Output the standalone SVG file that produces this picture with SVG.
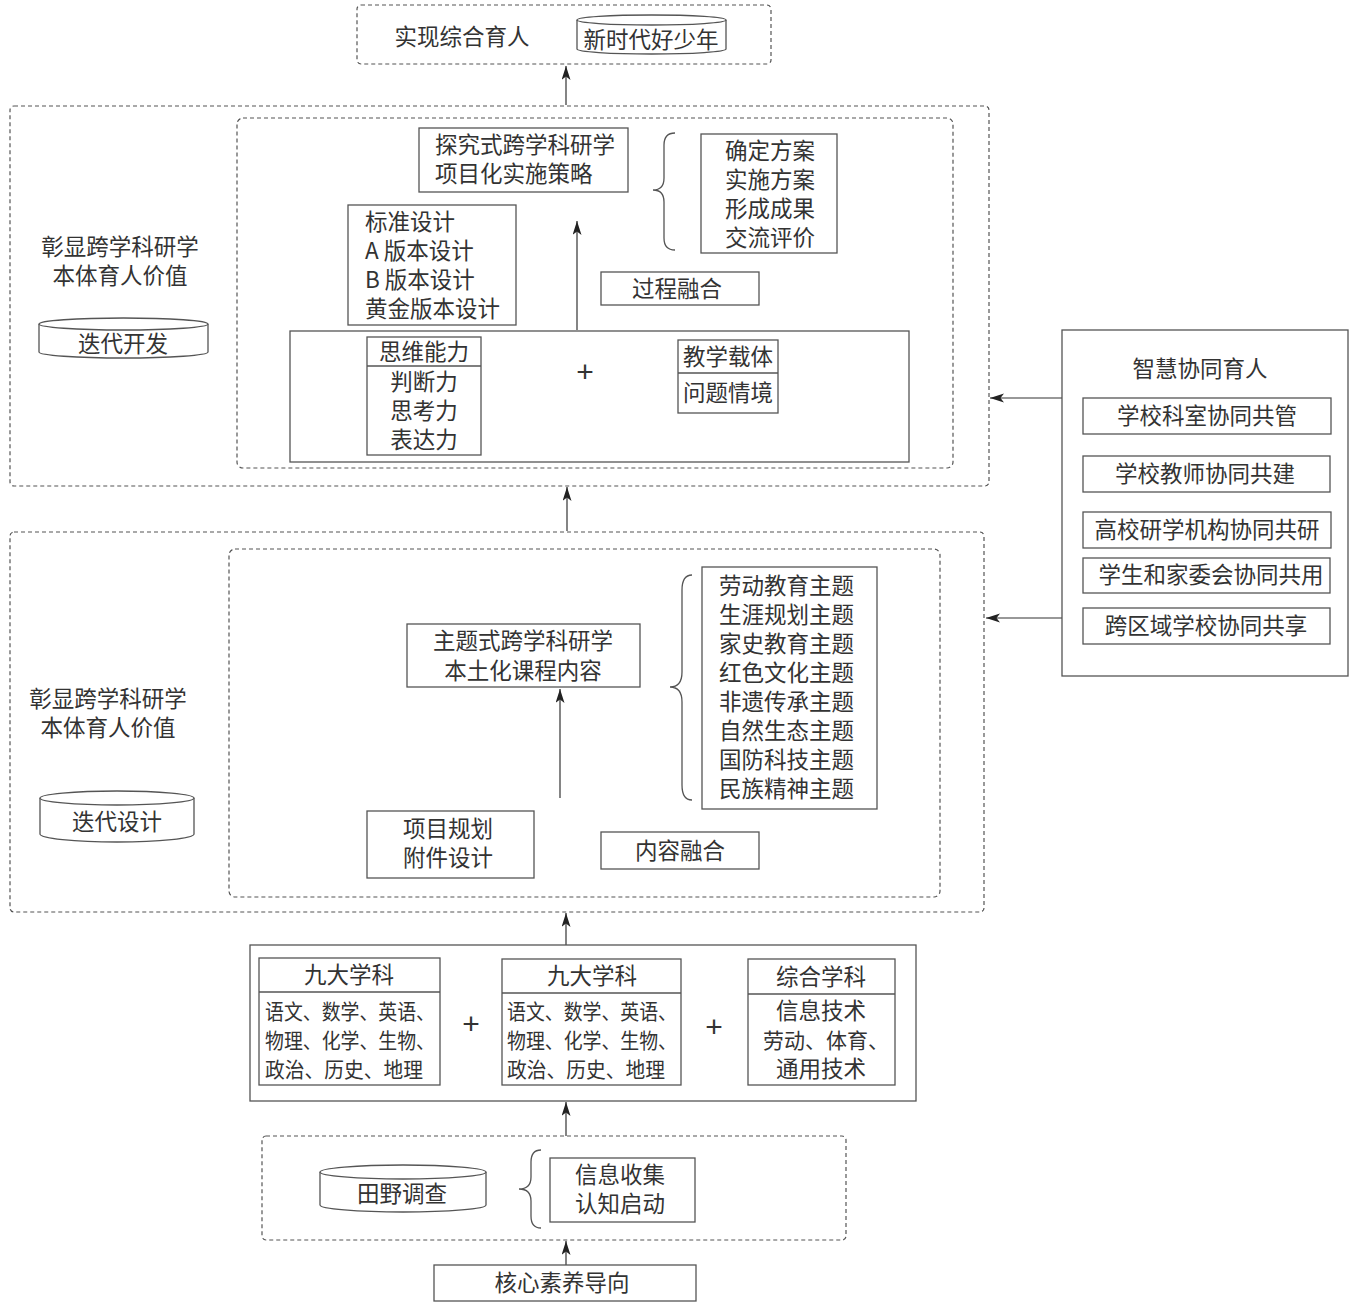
<svg xmlns="http://www.w3.org/2000/svg" width="1353" height="1305" viewBox="0 0 1353 1305">
<defs>
<style>
text{font-family:"Noto Sans CJK SC","Liberation Serif",serif;font-size:22.5px;fill:#333;}
.c{text-anchor:middle;}
.box{fill:#fff;stroke:#555;stroke-width:1.3;}
.nb{fill:none;stroke:#555;stroke-width:1.3;}
.dash{fill:none;stroke:#555;stroke-width:1.2;stroke-dasharray:4 3;}
.conn{fill:none;stroke:#333;stroke-width:1.2;}
.plus{font-size:30px;font-family:"Liberation Sans",sans-serif;}
.sm{font-size:21px;}
</style>
<marker id="ah" markerWidth="14" markerHeight="10" refX="14" refY="4.5" orient="auto" markerUnits="userSpaceOnUse">
<path d="M0,0 L14,4.5 L0,9 L3.5,4.5 Z" fill="#222"/>
</marker>
</defs>
<rect width="1353" height="1305" fill="#fff"/>

<g id="connectors">
<line class="conn" x1="566" y1="105" x2="566" y2="66" marker-end="url(#ah)"/>
<line class="conn" x1="567" y1="531" x2="567" y2="487" marker-end="url(#ah)"/>
<line class="conn" x1="566" y1="945" x2="566" y2="913" marker-end="url(#ah)"/>
<line class="conn" x1="566" y1="1136" x2="566" y2="1102" marker-end="url(#ah)"/>
<line class="conn" x1="566" y1="1265" x2="566" y2="1241" marker-end="url(#ah)"/>
<line class="conn" x1="577" y1="330" x2="577" y2="221" marker-end="url(#ah)"/>
<line class="conn" x1="560" y1="798" x2="560" y2="689" marker-end="url(#ah)"/>
<line class="conn" x1="1062" y1="398" x2="990" y2="398" marker-end="url(#ah)"/>
<line class="conn" x1="1062" y1="618" x2="986" y2="618" marker-end="url(#ah)"/>
<path class="nb" d="M675,133 Q664,133 664,145 L664,178 Q664,190 653,190 Q664,190 664,202 L664,238 Q664,250 675,250"/>
<path class="nb" d="M692,575 Q682,575 682,590 L682,672 Q682,687 670,687 Q682,687 682,702 L682,785 Q682,800 692,800"/>
<path class="nb" d="M541,1150 Q531,1150 531,1162 L531,1177 Q531,1189 519,1189 Q531,1189 531,1201 L531,1216 Q531,1228 541,1228"/>
</g>

<g id="top">
<rect class="dash" x="357" y="5" width="414" height="59" rx="4"/>
<text x="462" y="45" class="c">实现综合育人</text>
</g>
<g id="cyl-xinshidai">
<path class="box" d="M577,20 L577,49 A74.5,5 0 0 0 726,49 L726,20"/>
<ellipse class="box" cx="651.5" cy="20" rx="74.5" ry="5"/>
<text x="651" y="48" class="c">新时代好少年</text>
</g>

<g id="upper-stage">
<rect class="dash" x="10" y="106" width="979" height="380" rx="4"/>
<rect class="dash" x="237" y="118" width="716" height="350" rx="6"/>
<text x="120" y="255" class="c">彰显跨学科研学</text>
<text x="120" y="284" class="c">本体育人价值</text>
</g>
<g id="cyl-diedaikaifa">
<path class="box" d="M39,324 L39,352 A84.5,6 0 0 0 208,352 L208,324"/>
<ellipse class="box" cx="123.5" cy="324" rx="84.5" ry="6"/>
<text x="123" y="352" class="c">迭代开发</text>
</g>
<g id="tanjiu">
<rect class="box" x="419" y="128" width="209" height="64"/>
<text x="435" y="153">探究式跨学科研学</text>
<text x="435" y="182">项目化实施策略</text>
</g>
<g id="steps">
<rect class="box" x="701" y="134" width="136" height="119"/>
<text x="770" y="159" class="c">确定方案</text>
<text x="770" y="188" class="c">实施方案</text>
<text x="770" y="217" class="c">形成成果</text>
<text x="770" y="246" class="c">交流评价</text>
</g>
<g id="versions">
<rect class="box" x="348" y="205" width="168" height="120"/>
<text x="365" y="230">标准设计</text>
<text x="365" y="259">A 版本设计</text>
<text x="365" y="288">B 版本设计</text>
<text x="365" y="317">黄金版本设计</text>
</g>
<g id="guocheng">
<rect class="box" x="601" y="272" width="158" height="33"/>
<text x="677" y="297" class="c">过程融合</text>
</g>
<g id="ability-carrier">
<rect class="box" x="290" y="331" width="619" height="131"/>
<rect class="box" x="367" y="337" width="114" height="118"/>
<line class="nb" x1="367" y1="366" x2="481" y2="366"/>
<text x="424" y="360" class="c">思维能力</text>
<text x="424" y="390" class="c">判断力</text>
<text x="424" y="419" class="c">思考力</text>
<text x="424" y="448" class="c">表达力</text>
<text x="585" y="382" class="c plus">+</text>
<rect class="box" x="678" y="340" width="100" height="73"/>
<line class="nb" x1="678" y1="373" x2="778" y2="373"/>
<text x="728" y="365" class="c">教学载体</text>
<text x="728" y="401" class="c">问题情境</text>
</g>

<g id="middle-stage">
<rect class="dash" x="10" y="532" width="974" height="380" rx="4"/>
<rect class="dash" x="229" y="549" width="711" height="348" rx="6"/>
<text x="108" y="707" class="c">彰显跨学科研学</text>
<text x="108" y="736" class="c">本体育人价值</text>
</g>
<g id="cyl-diedaisheji">
<path class="box" d="M40,798 L40,834 A77,8 0 0 0 194,834 L194,798"/>
<ellipse class="box" cx="117" cy="798" rx="77" ry="7"/>
<text x="117" y="830" class="c">迭代设计</text>
</g>
<g id="zhuti">
<rect class="box" x="407" y="624" width="233" height="63"/>
<text x="523" y="649" class="c">主题式跨学科研学</text>
<text x="523" y="679" class="c">本土化课程内容</text>
</g>
<g id="topics">
<rect class="box" x="702" y="567" width="175" height="242"/>
<text x="719" y="594">劳动教育主题</text>
<text x="719" y="623">生涯规划主题</text>
<text x="719" y="652">家史教育主题</text>
<text x="719" y="681">红色文化主题</text>
<text x="719" y="710">非遗传承主题</text>
<text x="719" y="739">自然生态主题</text>
<text x="719" y="768">国防科技主题</text>
<text x="719" y="797">民族精神主题</text>
</g>
<g id="xiangmu">
<rect class="box" x="367" y="811" width="167" height="67"/>
<text x="448" y="837" class="c">项目规划</text>
<text x="448" y="866" class="c">附件设计</text>
</g>
<g id="neirong">
<rect class="box" x="601" y="832" width="158" height="37"/>
<text x="680" y="859" class="c">内容融合</text>
</g>

<g id="collab">
<rect class="box" x="1062" y="330" width="286" height="346"/>
<text x="1200" y="377" class="c">智慧协同育人</text>
<rect class="box" x="1083" y="398" width="248" height="36"/>
<text x="1207" y="424" class="c">学校科室协同共管</text>
<rect class="box" x="1083" y="456" width="247" height="36"/>
<text x="1205" y="482" class="c">学校教师协同共建</text>
<rect class="box" x="1083" y="512" width="248" height="36"/>
<text x="1207" y="538" class="c">高校研学机构协同共研</text>
<rect class="box" x="1083" y="558" width="247" height="35"/>
<text x="1211" y="583" class="c">学生和家委会协同共用</text>
<rect class="box" x="1083" y="608" width="247" height="36"/>
<text x="1206" y="634" class="c">跨区域学校协同共享</text>
</g>

<g id="subjects">
<rect class="box" x="250" y="945" width="666" height="156"/>
<rect class="box" x="259" y="958" width="181" height="127"/>
<line class="nb" x1="259" y1="992" x2="440" y2="992"/>
<text x="349" y="983" class="c">九大学科</text>
<text x="265" y="1019" class="sm" textLength="170" lengthAdjust="spacingAndGlyphs">语文、数学、英语、</text>
<text x="265" y="1048" class="sm" textLength="170" lengthAdjust="spacingAndGlyphs">物理、化学、生物、</text>
<text x="265" y="1077" class="sm" textLength="158" lengthAdjust="spacingAndGlyphs">政治、历史、地理</text>
<text x="471" y="1034" class="c plus">+</text>
<rect class="box" x="502" y="959" width="179" height="126"/>
<line class="nb" x1="502" y1="993" x2="681" y2="993"/>
<text x="592" y="984" class="c">九大学科</text>
<text x="507" y="1019" class="sm" textLength="170" lengthAdjust="spacingAndGlyphs">语文、数学、英语、</text>
<text x="507" y="1048" class="sm" textLength="170" lengthAdjust="spacingAndGlyphs">物理、化学、生物、</text>
<text x="507" y="1077" class="sm" textLength="158" lengthAdjust="spacingAndGlyphs">政治、历史、地理</text>
<text x="714" y="1037" class="c plus">+</text>
<rect class="box" x="748" y="959" width="147" height="126"/>
<line class="nb" x1="748" y1="994" x2="895" y2="994"/>
<text x="821" y="985" class="c">综合学科</text>
<text x="821" y="1019" class="c">信息技术</text>
<text x="826" y="1048" class="c sm" textLength="126" lengthAdjust="spacingAndGlyphs">劳动、体育、</text>
<text x="821" y="1077" class="c">通用技术</text>
</g>

<g id="field">
<rect class="dash" x="262" y="1136" width="584" height="104" rx="4"/>
</g>
<g id="cyl-tianye">
<path class="box" d="M320,1172 L320,1205 A83,7 0 0 0 486,1205 L486,1172"/>
<ellipse class="box" cx="403" cy="1172" rx="83" ry="7"/>
<text x="402" y="1202" class="c">田野调查</text>
</g>
<g id="xinxi">
<rect class="box" x="550" y="1158" width="145" height="64"/>
<text x="620" y="1183" class="c">信息收集</text>
<text x="620" y="1212" class="c">认知启动</text>
</g>
<g id="hexin">
<rect class="box" x="434" y="1265" width="262" height="36"/>
<text x="562" y="1291" class="c">核心素养导向</text>
</g>
</svg>
